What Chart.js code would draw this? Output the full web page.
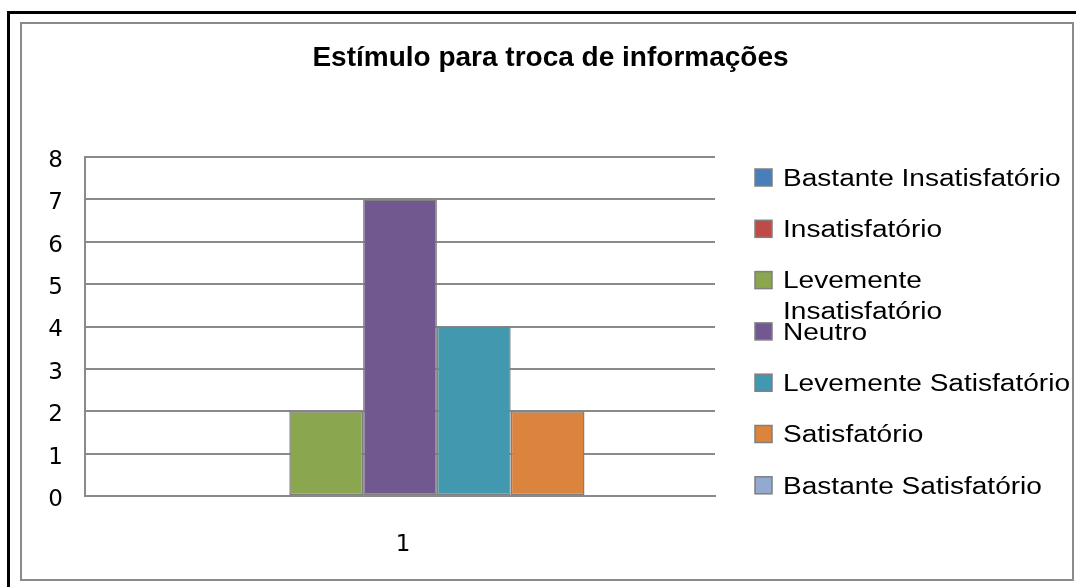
<!DOCTYPE html>
<html>
<head>
<meta charset="utf-8">
<script src="https://cdn.jsdelivr.net/npm/chart.js"></script>
<style>
  html, body { margin: 0; padding: 0; background: #fff; overflow: hidden; width: 1076px; height: 587px; }
  .frame { position: absolute; left: 7px; top: 11px; width: 1069px; height: 576px;
           box-sizing: border-box; border-left: 3px solid #000; border-top: 3px solid #000; }
  .box { position: absolute; left: 20px; top: 22px; width: 1054px; height: 559px;
         box-sizing: border-box; border: 2px solid #8a8a8a; }
  #chart { position: absolute; left: 0; top: 0; }
</style>
</head>
<body>
<div class="frame"></div>
<div class="box"></div>
<canvas id="chart" width="1076" height="587"></canvas>
<script>
const categories = ['1'];
const seriesNames = [
  'Bastante Insatisfatório',
  'Insatisfatório',
  'Levemente Insatisfatório',
  'Neutro',
  'Levemente Satisfatório',
  'Satisfatório',
  'Bastante Satisfatório'
];
const seriesValues = [0, 0, 2, 7, 4, 2, 0];
const seriesColors = ['#4a7ebb', '#be4b48', '#8aa64e', '#71588f', '#4198af', '#db843d', '#93a9cf'];
const yTicks = [0, 1, 2, 3, 4, 5, 6, 7, 8];

const GRID = '#8a8a8a';
const TEXT_STRETCH = 1.22;

// legend drawn as its own layout box on the right, so labels can wrap like the original
function wrapText(ctx, text, maxW) {
  const words = text.split(' ');
  const lines = [];
  let cur = '';
  words.forEach(w => {
    const test = cur ? cur + ' ' + w : w;
    if (cur && ctx.measureText(test).width > maxW) {
      lines.push(cur);
      cur = w;
    } else {
      cur = test;
    }
  });
  if (cur) lines.push(cur);
  return lines;
}

function drawLegend(chart, box) {
  const ctx = chart.ctx;
  ctx.save();
  ctx.font = '23px "Liberation Sans", Arial, sans-serif';
  ctx.textBaseline = 'middle';
  ctx.textAlign = 'left';
  const sqX = box.left + 40;
  const txtX = box.left + 68;
  const maxW = (box.right - txtX + 4) / TEXT_STRETCH;
  chart.data.datasets.forEach((ds, i) => {
    const cy = box.top + 20.5 + i * 51.3;
    ctx.fillStyle = ds.backgroundColor;
    ctx.fillRect(sqX, cy - 8.5, 17, 17);
    ctx.strokeStyle = '#7f7f7f';
    ctx.lineWidth = 1.5;
    ctx.strokeRect(sqX, cy - 8.5, 17, 17);
    const lines = wrapText(ctx, ds.label, maxW);
    lines.forEach((ln, j) => {
      ctx.save();
      ctx.translate(txtX, cy + 2 + j * 31);
      ctx.scale(TEXT_STRETCH, 1);
      ctx.fillStyle = '#000';
      ctx.fillText(ln, 0, 0);
      ctx.restore();
    });
  });
  ctx.restore();
}

const sideLegend = {
  id: 'sideLegend',
  beforeInit(chart) {
    const box = {
      position: 'right',
      weight: 10,
      fullSize: false,
      options: {},
      left: 0, top: 0, right: 0, bottom: 0, width: 0, height: 0,
      isHorizontal() { return false; },
      update(maxWidth, maxHeight) {
        this.width = 361;
        this.height = maxHeight;
      },
      draw() { drawLegend(chart, this); }
    };
    Chart.layouts.addBox(chart, box);
  }
};

const datasets = seriesNames.map((name, i) => ({
  label: name,
  data: [seriesValues[i]],
  backgroundColor: seriesColors[i],
  borderColor: '#7f7f7f',
  borderWidth: 1.5,
  borderSkipped: false,
  categoryPercentage: 0.82,
  barPercentage: 1
}));

new Chart(document.getElementById('chart'), {
  type: 'bar',
  data: { labels: categories, datasets: datasets },
  plugins: [sideLegend],
  options: {
    responsive: false,
    animation: false,
    layout: { padding: { left: 25, right: 0, top: 0, bottom: 31 } },
    plugins: {
      legend: { display: false },
      tooltip: { enabled: false },
      title: {
        display: true,
        text: 'Estímulo para troca de informações',
        color: '#000',
        font: { family: '"Liberation Sans", Arial, sans-serif', size: 28, weight: 'bold' },
        padding: { top: 41.5, bottom: 81.9 }
      }
    },
    scales: {
      x: {
        grid: { display: false },
        border: { display: true, color: GRID, width: 2 },
        ticks: {
          color: '#000',
          padding: 27,
          labelOffset: 3,
          font: { family: '"DejaVu Sans", sans-serif', size: 23 }
        },
        afterFit(scale) { scale.height = 60; }
      },
      y: {
        min: 0,
        max: yTicks[yTicks.length - 1],
        afterBuildTicks(scale) { scale.ticks = yTicks.map(v => ({ value: v })); },
        grid: { color: GRID, lineWidth: 2, drawTicks: false },
        border: { display: true, color: GRID, width: 2 },
        ticks: {
          color: '#000',
          padding: 22,
          labelOffset: 4,
          font: { family: '"DejaVu Sans", sans-serif', size: 23 }
        },
        afterFit(scale) { scale.width = 60; }
      }
    }
  }
});
</script>
</body>
</html>
